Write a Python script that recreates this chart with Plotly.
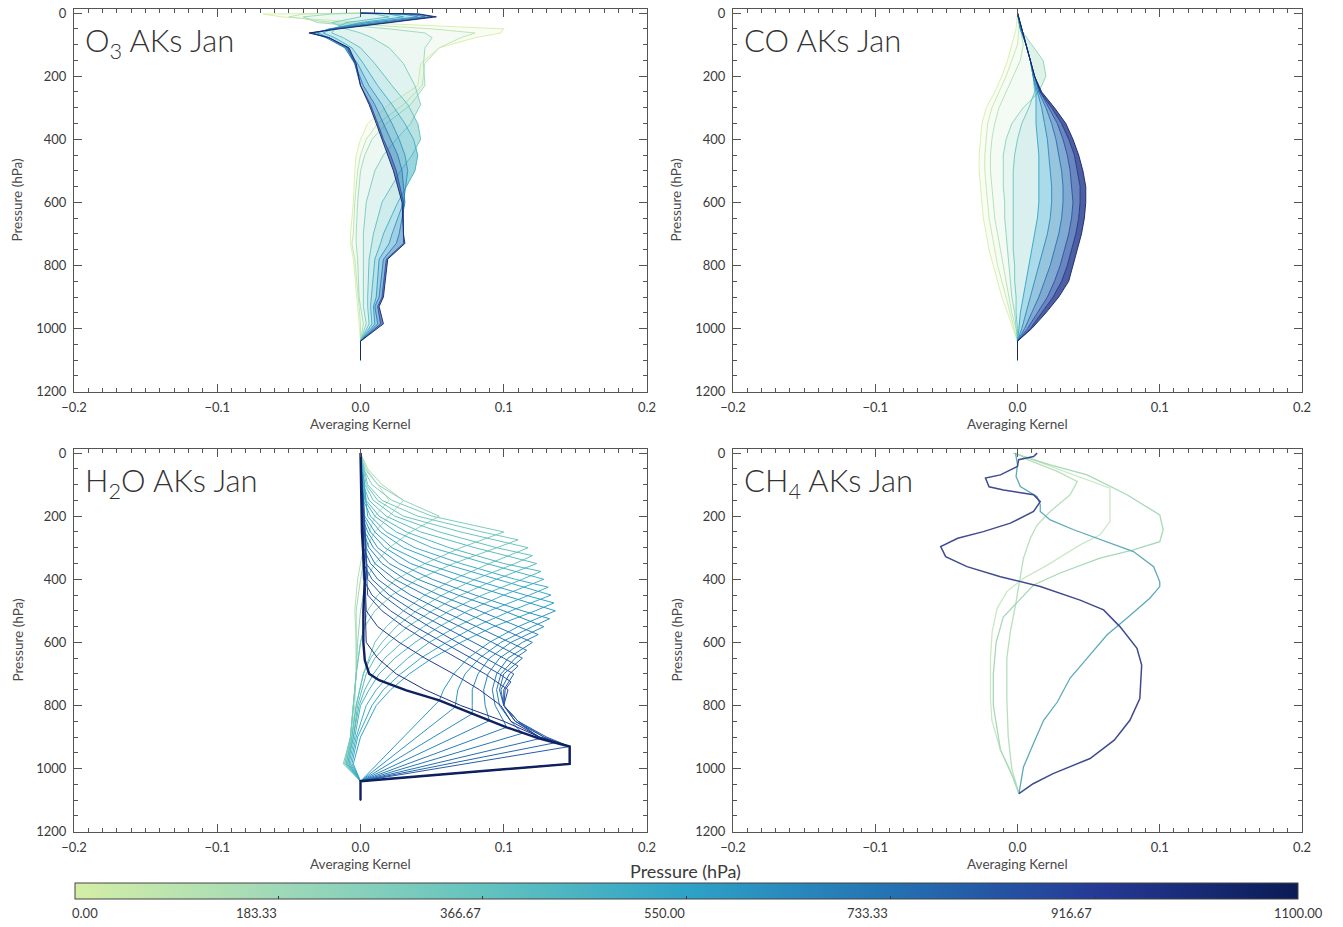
import plotly.graph_objects as go
from plotly.colors import sample_colorscale, unlabel_rgb

# ---------------- data ----------------
P_MAX = 1100.0
CSCALE = [[0.0, '#d4eea6'], [0.1667, '#9fd9b8'], [0.3333, '#63c3bf'], [0.5, '#2ea2c7'],
          [0.6667, '#2472b2'], [0.8333, '#253a96'], [1.0, '#0b1b55']]
CB_TICKVALS = [0, 183.33, 366.67, 550, 733.33, 916.67, 1100]
CB_TICKTEXT = ['0.00', '183.33', '366.67', '550.00', '733.33', '916.67', '1100.00']

PANEL_TITLES = ['O<sub>3</sub> AKs Jan', 'CO AKs Jan', 'H<sub>2</sub>O AKs Jan', 'CH<sub>4</sub> AKs Jan']

# O3 averaging kernels (rows by level), shared pressure grid
O3_P = [0, 3, 12, 30, 50, 63, 78, 110, 160, 230, 290, 350, 400, 450, 500, 600, 700, 730, 780, 900, 930, 985, 1040, 1100]
O3_LEVELS = [0, 100, 200, 300, 400, 500, 600, 700, 850, 1040]
O3_AK = [
    [0, -0.068, -0.055, 0.0, 0.1, 0.098, 0.08, 0.055, 0.042, 0.04, 0.02, 0.005, 0.0, -0.003, -0.004, -0.005, -0.007, -0.007, -0.005, -0.003, -0.002, -0.001, 0, 0],
    [0, -0.04, -0.05, -0.02, 0.05, 0.08, 0.07, 0.055, 0.045, 0.043, 0.03, 0.012, 0.004, 0.0, -0.002, -0.004, -0.005, -0.006, -0.004, -0.002, -0.001, 0.0, 0, 0],
    [0, -0.02, -0.04, -0.03, 0.02, 0.045, 0.05, 0.045, 0.044, 0.045, 0.035, 0.018, 0.008, 0.003, 0.0, -0.002, -0.003, -0.003, -0.002, -0.001, 0.0, 0.002, 0, 0],
    [0, 0.0, 0.0, -0.02, -0.01, 0.0, 0.008, 0.02, 0.03, 0.038, 0.042, 0.035, 0.025, 0.016, 0.01, 0.004, 0.002, 0.002, 0.002, 0.002, 0.002, 0.004, 0, 0],
    [0, 0.01, 0.02, -0.01, -0.018, -0.02, -0.012, 0.0, 0.01, 0.022, 0.033, 0.04, 0.042, 0.036, 0.028, 0.015, 0.009, 0.008, 0.006, 0.005, 0.005, 0.006, 0, 0],
    [0, 0.02, 0.03, 0.0, -0.02, -0.026, -0.018, -0.006, 0.002, 0.012, 0.022, 0.031, 0.037, 0.04, 0.038, 0.026, 0.016, 0.014, 0.01, 0.008, 0.007, 0.008, 0, 0],
    [0, 0.03, 0.04, 0.005, -0.022, -0.03, -0.022, -0.01, -0.002, 0.006, 0.015, 0.022, 0.027, 0.031, 0.033, 0.03, 0.022, 0.02, 0.013, 0.011, 0.009, 0.01, 0, 0],
    [0, 0.035, 0.045, 0.012, -0.02, -0.033, -0.024, -0.011, -0.004, 0.002, 0.01, 0.016, 0.021, 0.026, 0.029, 0.031, 0.027, 0.025, 0.016, 0.013, 0.01, 0.012, 0, 0],
    [0, 0.04, 0.05, 0.018, -0.017, -0.035, -0.022, -0.009, -0.004, 0.0, 0.007, 0.012, 0.016, 0.021, 0.025, 0.03, 0.03, 0.03, 0.018, 0.015, 0.012, 0.014, 0, 0],
    [0, 0.041, 0.053, 0.02, -0.015, -0.036, -0.022, -0.008, -0.003, 0.0, 0.006, 0.011, 0.015, 0.019, 0.023, 0.029, 0.03, 0.031, 0.019, 0.016, 0.013, 0.016, 0, 0],
]

# CO averaging kernels
CO_P = [0, 50, 100, 150, 200, 250, 300, 350, 400, 450, 500, 550, 600, 650, 700, 750, 800, 850, 900, 950, 1000, 1040, 1100]
CO_LEVELS = [0, 60, 120, 250, 350, 550, 650, 750, 850, 950, 1040]
CO_AK = [
    [0, -0.001, -0.004, -0.007, -0.011, -0.016, -0.022, -0.025, -0.026, -0.027, -0.027, -0.026, -0.025, -0.024, -0.022, -0.020, -0.017, -0.014, -0.011, -0.007, -0.003, 0, 0],
    [0, 0.001, 0.0, -0.004, -0.008, -0.013, -0.018, -0.021, -0.022, -0.023, -0.023, -0.022, -0.021, -0.020, -0.018, -0.016, -0.014, -0.011, -0.008, -0.005, -0.002, 0, 0],
    [0, 0.002, 0.004, 0.002, -0.003, -0.008, -0.013, -0.016, -0.018, -0.019, -0.019, -0.018, -0.017, -0.016, -0.014, -0.012, -0.010, -0.008, -0.006, -0.004, -0.001, 0, 0],
    [0, 0.002, 0.010, 0.018, 0.020, 0.015, 0.004, -0.004, -0.008, -0.010, -0.010, -0.010, -0.009, -0.009, -0.008, -0.007, -0.006, -0.005, -0.004, -0.002, -0.001, 0, 0],
    [0, 0.002, 0.006, 0.009, 0.011, 0.012, 0.008, 0.003, 0.0, -0.002, -0.003, -0.003, -0.003, -0.003, -0.003, -0.003, -0.002, -0.002, -0.001, -0.001, 0, 0, 0],
    [0, 0.002, 0.006, 0.009, 0.011, 0.013, 0.013, 0.013, 0.014, 0.015, 0.015, 0.015, 0.015, 0.014, 0.012, 0.010, 0.008, 0.006, 0.004, 0.002, 0.001, 0, 0],
    [0, 0.002, 0.006, 0.009, 0.011, 0.014, 0.017, 0.019, 0.021, 0.022, 0.023, 0.024, 0.024, 0.023, 0.021, 0.018, 0.015, 0.012, 0.009, 0.006, 0.003, 0, 0],
    [0, 0.003, 0.006, 0.009, 0.012, 0.015, 0.020, 0.024, 0.027, 0.029, 0.031, 0.032, 0.032, 0.031, 0.029, 0.026, 0.023, 0.019, 0.015, 0.010, 0.005, 0, 0],
    [0, 0.003, 0.006, 0.009, 0.012, 0.016, 0.022, 0.028, 0.032, 0.035, 0.037, 0.038, 0.039, 0.038, 0.036, 0.033, 0.030, 0.026, 0.021, 0.014, 0.007, 0, 0],
    [0, 0.003, 0.006, 0.009, 0.012, 0.016, 0.024, 0.031, 0.036, 0.040, 0.042, 0.044, 0.044, 0.043, 0.041, 0.038, 0.035, 0.031, 0.025, 0.017, 0.009, 0, 0],
    [0, 0.003, 0.006, 0.009, 0.012, 0.017, 0.026, 0.034, 0.039, 0.043, 0.046, 0.048, 0.048, 0.047, 0.045, 0.042, 0.039, 0.036, 0.029, 0.020, 0.010, 0, 0],
]

# H2O averaging kernels (each row has its own pressure points)
H2O_LEVELS = [100, 150, 200, 250, 275, 300, 325, 350, 375, 400, 425, 450, 475, 500, 525, 550, 575,
              600, 625, 650, 675, 700, 725, 750, 800, 850, 930]
H2O_P = [
    [0, 50, 100, 150, 200, 300, 400, 500, 600, 700, 800, 900, 985, 1040, 1100],
    [0, 50, 100, 150, 200, 250, 300, 400, 500, 600, 700, 800, 900, 985, 1040, 1100],
    [0, 50, 100, 150, 200, 250, 300, 350, 400, 500, 600, 700, 800, 900, 985, 1040, 1100],
    [0, 50, 100, 150, 200, 250, 300, 350, 400, 450, 500, 600, 700, 800, 900, 985, 1040, 1100],
    [0, 100, 150, 200, 250, 275, 300, 350, 400, 450, 500, 550, 600, 700, 800, 900, 985, 1040, 1100],
    [0, 100, 150, 200, 250, 300, 350, 400, 450, 500, 550, 600, 700, 800, 900, 985, 1040, 1100],
    [0, 100, 150, 200, 250, 300, 325, 350, 400, 450, 500, 550, 600, 650, 700, 800, 900, 985, 1040, 1100],
    [0, 100, 150, 200, 250, 300, 350, 400, 450, 500, 550, 600, 650, 700, 800, 900, 985, 1040, 1100],
    [0, 150, 200, 250, 300, 350, 375, 400, 450, 500, 550, 600, 650, 700, 750, 800, 900, 985, 1040, 1100],
    [0, 150, 200, 250, 300, 350, 400, 450, 500, 550, 600, 650, 700, 750, 800, 900, 985, 1040, 1100],
    [0, 150, 200, 250, 300, 350, 400, 425, 450, 500, 550, 600, 650, 700, 750, 800, 900, 985, 1040, 1100],
    [0, 200, 250, 300, 350, 400, 450, 500, 550, 600, 650, 700, 750, 800, 900, 985, 1040, 1100],
    [0, 200, 250, 300, 350, 400, 450, 475, 500, 550, 600, 650, 700, 750, 800, 900, 985, 1040, 1100],
    [0, 200, 250, 300, 350, 400, 450, 500, 550, 600, 650, 700, 750, 784, 1040, 1100],
    [0, 200, 250, 300, 350, 400, 450, 500, 525, 550, 600, 650, 700, 750, 805, 1040, 1100],
    [0, 250, 300, 350, 400, 450, 500, 550, 600, 650, 700, 750, 800, 826, 1040, 1100],
    [0, 250, 300, 350, 400, 450, 500, 550, 575, 600, 650, 700, 750, 800, 848, 1040, 1100],
    [0, 300, 350, 400, 450, 500, 550, 600, 650, 700, 750, 800, 850, 869, 1040, 1100],
    [0, 300, 350, 400, 450, 500, 550, 600, 625, 650, 700, 750, 800, 850, 888, 1040, 1100],
    [0, 350, 400, 450, 500, 550, 600, 650, 700, 750, 800, 850, 905, 1040, 1100],
    [0, 350, 400, 450, 500, 550, 600, 650, 675, 700, 750, 800, 850, 900, 918, 1040, 1100],
    [0, 400, 450, 500, 550, 600, 650, 700, 750, 800, 850, 900, 930, 1040, 1100],
    [0, 400, 450, 500, 550, 600, 650, 700, 725, 750, 800, 850, 900, 930, 985, 1040, 1100],
    [0, 450, 500, 550, 600, 650, 700, 750, 800, 850, 900, 930, 985, 1040, 1100],
    [0, 500, 550, 600, 650, 700, 750, 800, 850, 900, 930, 985, 1040, 1100],
    [0, 600, 650, 700, 750, 800, 850, 900, 930, 985, 1040, 1100],
    [0, 250, 400, 500, 600, 657, 699, 720, 752, 784, 826, 869, 905, 930, 985, 1040, 1100],
]
H2O_AK = [
    [0, 0.004, 0.012, 0.02, 0.01, 0.002, -0.002, -0.004, -0.003, -0.003, -0.004, -0.006, -0.008, 0, 0],
    [0, 0.005, 0.015, 0.03, 0.02, 0.01, 0.004, 0.0, -0.003, -0.003, -0.003, -0.005, -0.007, -0.01, 0, 0],
    [0, 0.003, 0.012, 0.03, 0.055, 0.035, 0.02, 0.01, 0.004, 0.0, -0.002, -0.003, -0.005, -0.007, -0.011, 0, 0],
    [0, 0.002, 0.008, 0.022, 0.05, 0.1, 0.07, 0.045, 0.025, 0.012, 0.005, 0.0, -0.003, -0.005, -0.007, -0.012, 0, 0],
    [0, 0.005, 0.015, 0.04, 0.085, 0.11, 0.095, 0.065, 0.04, 0.022, 0.01, 0.003, 0.0, -0.003, -0.005, -0.007, -0.011, 0, 0],
    [0, 0.004, 0.012, 0.03, 0.07, 0.117, 0.09, 0.065, 0.045, 0.03, 0.018, 0.01, 0.002, -0.003, -0.006, -0.01, 0, 0],
    [0, 0.003, 0.009, 0.024, 0.055, 0.095, 0.12, 0.108, 0.08, 0.057, 0.039, 0.025, 0.015, 0.007, 0.002, -0.003, -0.006, -0.01, 0, 0],
    [0, 0.002, 0.006, 0.018, 0.042, 0.08, 0.123, 0.095, 0.07, 0.05, 0.033, 0.02, 0.01, 0.004, -0.002, -0.005, -0.009, 0, 0],
    [0, 0.004, 0.013, 0.032, 0.062, 0.1, 0.126, 0.113, 0.085, 0.062, 0.044, 0.029, 0.017, 0.009, 0.003, -0.001, -0.005, -0.009, 0, 0],
    [0, 0.003, 0.01, 0.025, 0.05, 0.088, 0.128, 0.1, 0.075, 0.055, 0.038, 0.024, 0.013, 0.006, 0.0, -0.004, -0.008, 0, 0],
    [0, 0.002, 0.007, 0.018, 0.038, 0.07, 0.108, 0.131, 0.118, 0.09, 0.067, 0.048, 0.033, 0.021, 0.011, 0.004, -0.003, -0.007, 0, 0],
    [0, 0.005, 0.014, 0.03, 0.058, 0.095, 0.133, 0.105, 0.08, 0.06, 0.042, 0.028, 0.016, 0.008, -0.002, -0.006, 0, 0],
    [0, 0.003, 0.01, 0.022, 0.045, 0.078, 0.115, 0.135, 0.122, 0.093, 0.07, 0.05, 0.034, 0.021, 0.011, 0.0, -0.005, 0, 0],
    [0, 0.002, 0.007, 0.017, 0.035, 0.065, 0.1, 0.136, 0.11, 0.09, 0.075, 0.065, 0.058, 0.055, 0, 0],
    [0, 0.001, 0.005, 0.012, 0.027, 0.05, 0.08, 0.113, 0.132, 0.12, 0.098, 0.083, 0.073, 0.068, 0.066, 0, 0],
    [0, 0.003, 0.009, 0.02, 0.04, 0.068, 0.1, 0.128, 0.105, 0.09, 0.082, 0.078, 0.078, 0.078, 0, 0],
    [0, 0.002, 0.006, 0.015, 0.031, 0.055, 0.083, 0.11, 0.124, 0.113, 0.097, 0.089, 0.086, 0.087, 0.09, 0, 0],
    [0, 0.004, 0.01, 0.024, 0.045, 0.07, 0.095, 0.12, 0.103, 0.095, 0.092, 0.094, 0.1, 0.102, 0, 0],
    [0, 0.002, 0.007, 0.018, 0.035, 0.057, 0.081, 0.104, 0.116, 0.108, 0.098, 0.095, 0.097, 0.105, 0.113, 0, 0],
    [0, 0.004, 0.012, 0.027, 0.047, 0.07, 0.092, 0.113, 0.1, 0.097, 0.1, 0.11, 0.125, 0, 0],
    [0, 0.002, 0.008, 0.02, 0.037, 0.058, 0.08, 0.1, 0.11, 0.104, 0.098, 0.1, 0.11, 0.128, 0.136, 0, 0],
    [0, 0.005, 0.015, 0.03, 0.048, 0.068, 0.088, 0.107, 0.1, 0.1, 0.11, 0.13, 0.146, 0, 0],
    [0, 0.002, 0.008, 0.021, 0.038, 0.058, 0.078, 0.097, 0.105, 0.101, 0.1, 0.108, 0.128, 0.146, 0.146, 0, 0],
    [0, 0.005, 0.015, 0.03, 0.048, 0.068, 0.087, 0.103, 0.1, 0.108, 0.125, 0.146, 0.146, 0, 0],
    [0, 0.004, 0.012, 0.027, 0.045, 0.065, 0.083, 0.098, 0.105, 0.125, 0.146, 0.146, 0, 0],
    [0, 0.004, 0.012, 0.025, 0.045, 0.07, 0.1, 0.125, 0.146, 0.146, 0, 0],
    [0.0, 0.001, 0.003, 0.002, 0.002, 0.003, 0.006, 0.013, 0.032, 0.055, 0.078, 0.102, 0.125, 0.146, 0.146, 0, 0],
]

# CH4 averaging kernels (5 rows)
CH4_LEVELS = [120, 180, 250, 500, 900]
CH4_COLORS = ['#cbe8c6', '#b7e0bc', '#a6d9b6', '#5ea9bb', '#3f4b8e']
CH4_P = [
    [0, 26, 69, 111, 154, 217, 259, 291, 355, 397, 439, 492, 566, 650, 777, 847, 942, 1006, 1079],
    [0, 21, 58, 90, 132, 185, 228, 270, 333, 397, 482, 566, 650, 780, 900, 1000, 1079],
    [0, 15, 37, 69, 132, 196, 243, 281, 307, 333, 380, 418, 471, 520, 600, 700, 800, 940, 1030, 1079],
    [0, 37, 74, 106, 138, 164, 185, 212, 243, 281, 312, 360, 408, 423, 460, 523, 576, 650, 713, 789, 847, 920, 995, 1079],
    [0, 11, 21, 42, 69, 79, 107, 117, 132, 154, 185, 222, 249, 270, 296, 328, 360, 392, 423, 466, 497, 550, 619, 672, 778, 847, 910, 968, 1016, 1048, 1079],
]
CH4_AK = [
    [-0.002, 0.0138, 0.0395, 0.065, 0.065, 0.065, 0.058, 0.044, 0.021, 0.0042, -0.0075, -0.0143, -0.0178, -0.019, -0.019, -0.018, -0.012, -0.005, 0.001],
    [-0.001, 0.007, 0.028, 0.042, 0.037, 0.023, 0.0138, 0.009, 0.0042, 0.002, -0.0014, -0.005, -0.0075, -0.0075, -0.0065, -0.004, 0.001],
    [-0.003, 0.007, 0.023, 0.049, 0.077, 0.1, 0.1024, 0.1, 0.0815, 0.058, 0.03, 0.0113, 0.0, -0.01, -0.015, -0.017, -0.017, -0.012, -0.003, 0.001],
    [-0.0014, 0.0, -0.001, 0.002, 0.0138, 0.016, 0.016, 0.023, 0.0395, 0.063, 0.0815, 0.0957, 0.1, 0.1, 0.093, 0.077, 0.063, 0.049, 0.037, 0.028, 0.0184, 0.0113, 0.0042, 0.001],
    [0.0138, 0.0113, 0.0008, 0.0, -0.012, -0.0225, -0.02, -0.0098, 0.0113, 0.016, 0.0113, -0.005, -0.024, -0.042, -0.054, -0.0505, -0.0355, -0.012, 0.016, 0.044, 0.0605, 0.072, 0.084, 0.0873, 0.086, 0.079, 0.068, 0.051, 0.025, 0.011, 0.001],
]

# ---------------- styling / layout ----------------
W, H = 1343, 927
FONT = 'Lato'
TXT = '#3a3a3a'
AX = '#555555'
H2O_COLOR_STRETCH = 1.15   # H2O kernels appear a shade darker than their nominal level

# panel boxes in pixels: (left, right, top, bottom)
BOXES = [(74, 647, 9.3, 391.7), (733, 1302, 9.3, 391.7),
         (74, 647, 449.3, 831.7), (733, 1302, 449.3, 831.7)]
CB_LEFT, CB_RIGHT, CB_TOP = 75, 1298, 883


def lvl_color(level):
    return sample_colorscale(CSCALE, [min(max(level / P_MAX, 0), 1)])[0]


def rgba(col, a):
    r, g, b = unlabel_rgb(col)
    return f'rgba({int(r)},{int(g)},{int(b)},{a:.3f})'


def fill_alpha(level):
    return 0.12 + 0.85 * (level / P_MAX) ** 1.6


fig = go.Figure()


def add_line(k, x, y, color, width, fill=None, fillcolor=None):
    sfx = '' if k == 1 else str(k)
    fig.add_trace(go.Scatter(
        x=x, y=y, mode='lines', line=dict(color=color, width=width),
        fill=fill if fill else 'none', fillcolor=fillcolor,
        xaxis='x' + sfx, yaxis='y' + sfx, hoverinfo='skip', showlegend=False))


# panels 1-2: dense kernel bands, neighbouring kernels shaded with the lighter kernel's colour
for k, levels, grid, rows in [(1, O3_LEVELS, O3_P, O3_AK), (2, CO_LEVELS, CO_P, CO_AK)]:
    prev = None
    for lev, ak in zip(levels, rows):
        c = lvl_color(lev)
        if prev is None:
            add_line(k, ak, grid, c, 0.9)
        else:
            pc = lvl_color(prev)
            add_line(k, ak, grid, c, 0.9, 'tonextx', rgba(pc, fill_alpha(prev)))
        prev = lev

# panel 3: H2O
for lev, p, ak in zip(H2O_LEVELS, H2O_P, H2O_AK):
    add_line(3, ak, p, lvl_color(lev * H2O_COLOR_STRETCH), 2.4 if lev >= 900 else 1.0)

# panel 4: CH4
for col, p, ak in zip(CH4_COLORS, CH4_P, CH4_AK):
    add_line(4, ak, p, col, 1.5 if col == CH4_COLORS[-1] else 1.3)

# colour bar (shared)
fig.add_trace(go.Scatter(
    x=[None], y=[None], mode='markers', hoverinfo='skip', showlegend=False,
    marker=dict(color=[0], cmin=0, cmax=P_MAX, colorscale=CSCALE, showscale=True,
                colorbar=dict(orientation='h', x=(CB_LEFT + CB_RIGHT) / 2 / W, xanchor='center',
                              len=(CB_RIGHT - CB_LEFT) / W, lenmode='fraction',
                              y=1 - CB_TOP / H, yanchor='top', thickness=16, thicknessmode='pixels',
                              outlinewidth=1, outlinecolor='#444', xpad=0, ypad=0,
                              tickvals=CB_TICKVALS, ticks='inside', ticklen=3,
                              tickcolor='#333', showticklabels=False))))

layout = dict(width=W, height=H, margin=dict(l=0, r=0, t=0, b=0), template='none',
              paper_bgcolor='white', plot_bgcolor='white', showlegend=False,
              font=dict(family=FONT, color=TXT))
annotations = []
for k, (l, r, t, b) in enumerate(BOXES, start=1):
    sfx = '' if k == 1 else str(k)
    common = dict(showline=True, linecolor=AX, linewidth=1, mirror='ticks', ticks='inside',
                  tickcolor=AX, ticklen=8, tickwidth=1, showgrid=False, zeroline=False,
                  automargin=False, tickfont=dict(family=FONT, size=13, color=TXT))
    layout['xaxis' + sfx] = dict(common, domain=[l / W, r / W], anchor='y' + sfx,
                                 range=[-0.2, 0.2], tick0=0, dtick=0.1, tickformat='.1f',
                                 ticklabelstandoff=4,
                                 minor=dict(dtick=0.01, tick0=0, ticks='inside', ticklen=4,
                                            tickcolor=AX))
    layout['yaxis' + sfx] = dict(common, domain=[1 - b / H, 1 - t / H], anchor='x' + sfx,
                                 range=[1200, -12], tick0=0, dtick=200, ticklabelstandoff=4,
                                 minor=dict(dtick=50, tick0=0, ticks='inside', ticklen=4,
                                            tickcolor=AX))
    cx = (l + r) / 2 / W
    annotations.append(dict(text='Averaging Kernel', x=cx, y=1 - (b + 32) / H, xref='paper',
                            yref='paper', xanchor='center', yanchor='middle', showarrow=False,
                            font=dict(size=13.5, color='#4a4a4a', family=FONT)))
    annotations.append(dict(text='Pressure (hPa)', x=(l - 57) / W, y=1 - (t + b) / 2 / H,
                            xref='paper', yref='paper', xanchor='center', yanchor='middle',
                            textangle=-90, showarrow=False,
                            font=dict(size=13.5, color='#4a4a4a', family=FONT)))
    annotations.append(dict(text=PANEL_TITLES[k - 1], x=0.015, y=0.975, xref='x' + sfx + ' domain',
                            yref='y' + sfx + ' domain', xanchor='left', yanchor='top',
                            showarrow=False,
                            font=dict(size=31, color='#333', family=FONT, weight=300)))
# colour-bar tick labels (placed like the original: first left-aligned, inner ones ending at the tick)
n_cb = len(CB_TICKVALS)
for i, (v, t) in enumerate(zip(CB_TICKVALS, CB_TICKTEXT)):
    xpx = CB_LEFT + (CB_RIGHT - CB_LEFT) * v / P_MAX
    if i == 0:
        anchor, xpx = 'left', xpx - 5
    elif i == n_cb - 1:
        anchor = 'center'
    else:
        anchor = 'right'
    annotations.append(dict(text=t, x=xpx / W, y=1 - 913 / H, xref='paper', yref='paper',
                            xanchor=anchor, yanchor='middle', showarrow=False,
                            font=dict(size=13, color=TXT, family=FONT)))
annotations.append(dict(text='Pressure (hPa)', x=685 / W, y=1 - 871 / H, xref='paper', yref='paper',
                        xanchor='center', yanchor='middle', showarrow=False,
                        font=dict(size=18, color=TXT, family=FONT)))
layout['annotations'] = annotations
fig.update_layout(**layout)

fig.write_html('out.html', config={'displayModeBar': False},
               post_script="document.body.style.margin='0';")
